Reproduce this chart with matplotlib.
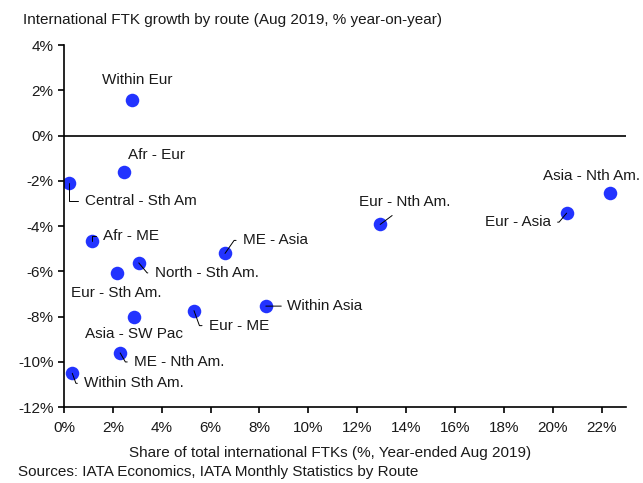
import matplotlib
matplotlib.use("Agg")
import matplotlib.pyplot as plt
from matplotlib.ticker import FuncFormatter

plt.rcParams['font.family'] = ['Liberation Sans', 'DejaVu Sans']

# route data: share of international FTKs (%) and yoy growth (%)
routes = ["Within Eur", "Afr - Eur", "Central - Sth Am", "Afr - ME", "ME - Asia",
          "North - Sth Am.", "Eur - Sth Am.", "Eur - ME", "Within Asia",
          "Asia - SW Pac", "ME - Nth Am.", "Within Sth Am.", "Eur - Nth Am.",
          "Eur - Asia", "Asia - Nth Am."]
share = [2.79, 2.46, 0.2, 1.14, 6.59, 3.06, 2.15, 5.32, 8.26, 2.87, 2.30, 0.34, 12.94, 20.57, 22.35]
growth = [1.57, -1.61, -2.1, -4.67, -5.21, -5.63, -6.07, -7.74, -7.54, -8.0, -9.61, -10.51, -3.93, -3.43, -2.53]

# label placement: offset in px, alignment, leader style (None = no line)
px = 0.72
label_pos = {
    "Within Eur": ((5, 20), "center", None),
    "Afr - Eur": ((4, 17), "left", None),
    "Central - Sth Am": ((16, -18), "left", ("angle", 90)),
    "Afr - ME": ((11, 5), "left", ("angle", 90)),
    "ME - Asia": ((18, 13), "left", ("angle", 55)),
    "North - Sth Am.": ((16, -10), "left", ("angle", -50)),
    "Eur - Sth Am.": ((0, -20), "center", None),
    "Eur - ME": ((15, -15), "left", ("angle", -70)),
    "Within Asia": ((21, 0), "left", ("straight", 0)),
    "Asia - SW Pac": ((0, -17), "center", None),
    "ME - Nth Am.": ((14, -9), "left", ("angle", -60)),
    "Within Sth Am.": ((12, -10), "left", ("angle", -70)),
    "Eur - Nth Am.": ((-21, 22), "left", ("nth", 0)),
    "Eur - Asia": ((-16, -9), "right", ("angle", 50)),
    "Asia - Nth Am.": ((-19, 17), "center", None),
}

fig = plt.figure(figsize=(6.43, 4.83), dpi=100)
ax = fig.add_axes([0.0995, 0.1573, 0.8741, 0.7495])

ax.scatter(share, growth, s=95, color="#2233FF", zorder=2, linewidths=0)
ax.axhline(0, color="black", lw=1.2, zorder=1)

for name, x, y in zip(routes, share, growth):
    (dx, dy), ha, leader = label_pos[name]
    kw = dict(xy=(x, y), xytext=(dx * px, dy * px), textcoords="offset points",
              ha=ha, va="center", fontsize=11, color="#1a1a1a", zorder=4)
    if leader is not None:
        kind, ang = leader
        if kind == "angle":
            relx = 0 if ha == "left" else 1
            kw["arrowprops"] = dict(arrowstyle="-", lw=0.7, color="black",
                                    connectionstyle="angle,angleA=0,angleB=%d,rad=0" % ang,
                                    relpos=(relx, 0.5), shrinkA=3, shrinkB=0)
        elif kind == "nth":
            kw["arrowprops"] = dict(arrowstyle="-", lw=0.7, color="black",
                                    relpos=(0.45, 0), shrinkA=4, shrinkB=0)
        else:
            kw["arrowprops"] = dict(arrowstyle="-", lw=0.7, color="black",
                                    relpos=(0, 0.5), shrinkA=2, shrinkB=0)
    ax.annotate(name, **kw)

ax.set_xlim(0, 23)
ax.set_ylim(-12, 4)
ax.set_xticks(range(0, 23, 2))
ax.set_yticks(range(-12, 5, 2))
pct = FuncFormatter(lambda v, p: "%d%%" % v)
ax.xaxis.set_major_formatter(pct)
ax.yaxis.set_major_formatter(pct)

for side in ["top", "right"]:
    ax.spines[side].set_visible(False)
for side in ["left", "bottom"]:
    ax.spines[side].set_linewidth(1.2)
ax.tick_params(direction="out", length=4, width=1.2, labelsize=11, colors="black",
               labelcolor="#1a1a1a")
ax.tick_params(axis="x", pad=6)

fig.text(23 / 643, 1 - 20 / 483, "International FTK growth by route (Aug 2019, % year-on-year)",
         fontsize=11, va="center", ha="left", color="#1a1a1a")
fig.text(330 / 643, 1 - 453 / 483, "Share of total international FTKs (%, Year-ended Aug 2019)",
         fontsize=11, va="center", ha="center", color="#1a1a1a")
fig.text(18 / 643, 1 - 472 / 483, "Sources: IATA Economics, IATA Monthly Statistics by Route",
         fontsize=11, va="center", ha="left", color="#1a1a1a")

fig.savefig("out.png", dpi=100)
